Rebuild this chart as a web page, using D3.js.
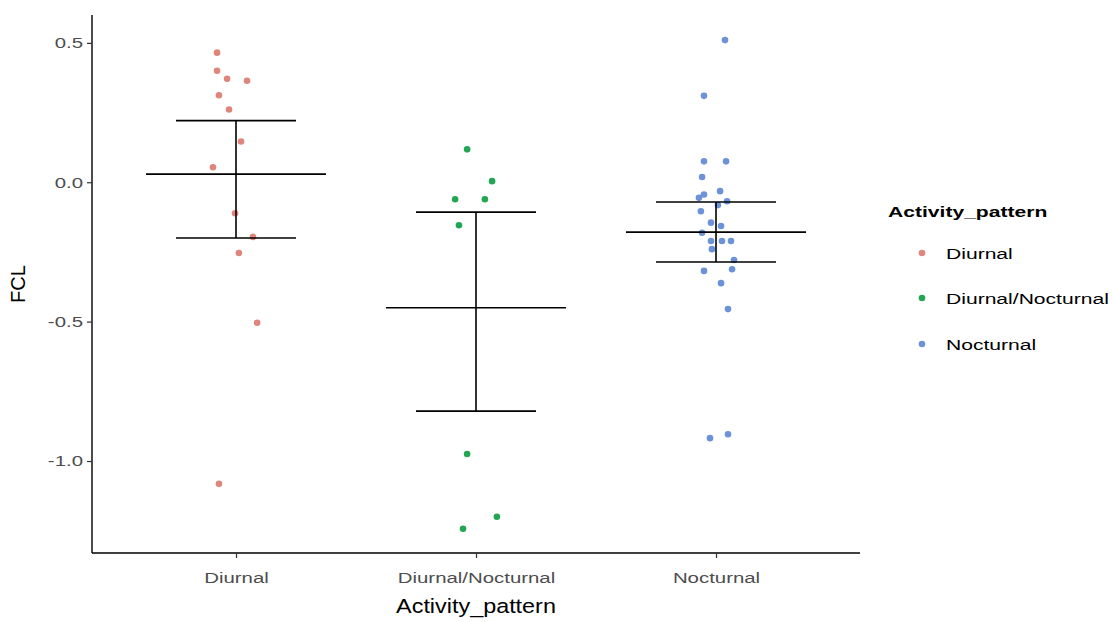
<!DOCTYPE html>
<html><head><meta charset="utf-8">
<script src="https://cdn.jsdelivr.net/npm/d3@7"></script>
<style>
body{margin:0;background:#fff;}
text{font-family:"Liberation Sans",Arial,sans-serif;}
</style>
</head><body>
<svg id="chart" width="1114" height="622"></svg>
<script>
const categories = ["Diurnal", "Diurnal/Nocturnal", "Nocturnal"];
const seriesColors = ["#DE857C", "#23A653", "#6C93D8"];

const diurnalFCL = [0.465, 0.40, 0.371, 0.364, 0.312, 0.261, 0.146, 0.054, -0.111, -0.196, -0.254, -0.504, -1.082];
const diurnalJitter = [-0.079, -0.079, -0.037, 0.046, -0.071, -0.029, 0.021, -0.096, -0.004, 0.071, 0.012, 0.088, -0.071];

const mixedFCL = [0.118, 0.004, -0.061, -0.061, -0.154, -0.975, -1.20, -1.243];
const mixedJitter = [-0.037, 0.067, -0.087, 0.037, -0.071, -0.037, 0.087, -0.054];

const nocturnalFCL = [0.51, 0.31, 0.075, 0.075, 0.019, -0.032, -0.044, -0.056, -0.068, -0.082, -0.104, -0.145, -0.157, -0.181, -0.211, -0.211, -0.211, -0.24, -0.279, -0.312, -0.318, -0.362, -0.455, -0.918, -0.904];
const nocturnalJitter = [0.0375, -0.05, -0.05, 0.042, -0.058, 0.017, -0.05, -0.071, 0.046, 0.008, -0.063, -0.021, 0.021, -0.058, 0.025, 0.0625, -0.021, -0.017, 0.075, 0.067, -0.05, 0.021, 0.05, -0.025, 0.05];

const groupMean = [0.029, -0.45, -0.179];
const groupLower = [-0.20, -0.821, -0.286];
const groupUpper = [0.221, -0.107, -0.071];

const yTicks = [-1.0, -0.5, 0.0, 0.5];
const yDomain = [-1.33, 0.6];

const xTitle = "Activity_pattern";
const yTitle = "FCL";
const legendTitle = "Activity_pattern";

const svg = d3.select("#chart");
const panel = {left: 92, right: 860, top: 15, bottom: 553};
const SX = 1.36; // horizontal stretch of the reference text

const x = d3.scalePoint().domain(categories).range([panel.left, panel.right]).padding(0.6);
const y = d3.scaleLinear().domain(yDomain).range([panel.bottom, panel.top]);
const color = d3.scaleOrdinal().domain(categories).range(seriesColors);

const groups = [
  {cat: categories[0], vals: diurnalFCL, jit: diurnalJitter},
  {cat: categories[1], vals: mixedFCL, jit: mixedJitter},
  {cat: categories[2], vals: nocturnalFCL, jit: nocturnalJitter}
];
const points = [];
groups.forEach(g => g.vals.forEach((v, i) => points.push({cat: g.cat, v: v, j: g.jit[i]})));

// points
svg.append("g").selectAll("circle").data(points).join("circle")
  .attr("cx", d => x(d.cat) + d.j * x.step())
  .attr("cy", d => y(d.v))
  .attr("r", 3.3)
  .attr("fill", d => color(d.cat));

// error bars
const summary = categories.map((c, i) => ({cat: c, mean: groupMean[i], lo: groupLower[i], hi: groupUpper[i]}));
const eb = svg.append("g").attr("stroke", "#000").attr("stroke-width", 1.6).attr("fill", "none");
summary.forEach(s => {
  const cx = x(s.cat), st = x.step();
  eb.append("line").attr("x1", cx).attr("x2", cx).attr("y1", y(s.hi)).attr("y2", y(s.lo));
  eb.append("line").attr("x1", cx - 0.25 * st).attr("x2", cx + 0.25 * st).attr("y1", y(s.hi)).attr("y2", y(s.hi));
  eb.append("line").attr("x1", cx - 0.25 * st).attr("x2", cx + 0.25 * st).attr("y1", y(s.lo)).attr("y2", y(s.lo));
  eb.append("line").attr("x1", cx - 0.375 * st).attr("x2", cx + 0.375 * st).attr("y1", y(s.mean)).attr("y2", y(s.mean));
});

// stretch helper: keeps the anchor point, widens glyphs horizontally
function stretch(sel, sx) {
  sel.each(function() {
    const t = d3.select(this);
    const tx = +t.attr("x") || 0;
    t.attr("x", 0).attr("transform", `translate(${tx},0) scale(${sx},1)`);
  });
}

// axes
const fmt = v => d3.format(".1f")(v).replace("\u2212", "-");
const yAxis = svg.append("g").attr("transform", `translate(${panel.left},0)`)
  .call(d3.axisLeft(y).tickValues(yTicks).tickFormat(fmt).tickSize(5).tickSizeOuter(0).tickPadding(4));
const xAxis = svg.append("g").attr("transform", `translate(0,${panel.bottom})`)
  .call(d3.axisBottom(x).tickSize(5).tickSizeOuter(0).tickPadding(14));
[yAxis, xAxis].forEach(a => {
  a.select(".domain").attr("stroke", "#000").attr("stroke-width", 1.4);
  a.selectAll(".tick line").attr("stroke", "#333").attr("stroke-width", 1.2);
  a.selectAll(".tick text").attr("fill", "#4d4d4d").style("font-size", "15px")
    .style("font-family", "'Liberation Sans', Arial, sans-serif");
  stretch(a.selectAll(".tick text"), SX);
});
xAxis.select(".domain").attr("d", `M${panel.left},0H${panel.right}`);
yAxis.select(".domain").attr("d", `M0,${panel.top}V${panel.bottom}`);

// titles
svg.append("text").attr("transform", `translate(${x(categories[1])},613) scale(1.2,1)`).attr("text-anchor", "middle")
  .style("font-size", "19.5px").attr("fill", "#000").text(xTitle);
svg.append("text").attr("transform", `translate(25,${(panel.top + panel.bottom) / 2}) rotate(-90)`)
  .attr("text-anchor", "middle").style("font-size", "20px").attr("fill", "#000").text(yTitle);

// legend
const lg = svg.append("g");
lg.append("text").attr("transform", `translate(888,217) scale(${SX},1)`).style("font-size", "15.5px").style("font-weight", "bold")
  .attr("fill", "#000").text(legendTitle);
const legendY = [253, 298, 344];
categories.forEach((c, i) => {
  lg.append("circle").attr("cx", 922).attr("cy", legendY[i]).attr("r", 3.3).attr("fill", color(c));
  lg.append("text").attr("transform", `translate(946,${legendY[i]}) scale(${SX},1)`).attr("dy", "0.36em")
    .style("font-size", "15.5px").attr("fill", "#000").text(c);
});
</script>
</body></html>
